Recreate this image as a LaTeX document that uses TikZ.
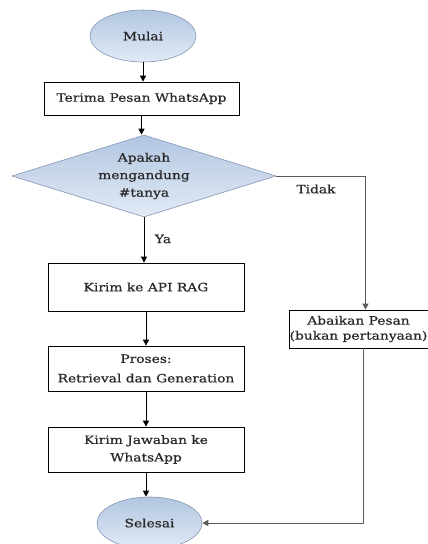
\documentclass[tikz,border=0pt]{standalone}
\usepackage{fontspec}
\setmainfont[FakeStretch=1.2,FakeBold=0.7]{DejaVu Serif}
\usetikzlibrary{shapes.geometric,arrows.meta,calc}
\definecolor{txt}{RGB}{40,40,40}
\definecolor{shtop}{RGB}{178,198,225}
\definecolor{shbot}{RGB}{226,234,245}
\definecolor{shline}{RGB}{130,150,180}
\definecolor{gline}{RGB}{90,90,90}
\begin{document}
\begin{tikzpicture}[x=1pt,y=-1pt,
  every node/.style={font=\fontsize{11.5}{17.5}\selectfont, text=txt},
  term/.style={ellipse, draw=shline, line width=0.6pt, top color=shtop, bottom color=shbot, inner sep=0pt},
  proc/.style={rectangle, draw=black, line width=0.7pt, fill=white, inner sep=0pt, align=center},
  decide/.style={diamond, aspect=3.2, draw=shline, line width=0.6pt, top color=shtop, bottom color=shbot, inner sep=0pt, align=center},
  flow/.style={draw=black, line width=0.7pt, -{Triangle[width=6pt,length=6pt]}},
  gflow/.style={draw=gline, line width=0.7pt, -{Triangle[width=6pt,length=6pt]}}
]
\useasboundingbox (0,0) rectangle (428,544);
\node[term, minimum width=106pt, minimum height=52pt] (mulai) at (143,36) {Mulai};
\node[proc, minimum width=195pt, minimum height=33pt] (terima) at (141.5,98.5) {Terima Pesan WhatsApp};
\node[decide, minimum width=264pt, minimum height=82pt] (tanya) at (144,176) {Apakah\\mengandung\\\#tanya};
\node[proc, minimum width=196pt, minimum height=48pt] (kirim) at (146,287) {Kirim ke API RAG};
\node[proc, minimum width=196pt, minimum height=45pt] (proses) at (146,368.5) {Proses:\\[2pt]Retrieval dan Generation};
\node[proc, minimum width=196pt, minimum height=45pt] (jawab) at (146,449.5) {Kirim Jawaban ke\\WhatsApp};
\node[proc, minimum width=139pt, minimum height=38pt] (abaikan) at (358.5,329) {Abaikan Pesan\\[-2.5pt](bukan pertanyaan)};
\node[term, minimum width=105pt, minimum height=52pt] (selesai) at (149.5,523) {Selesai};
\node (ya) at (163,239) {Ya};
\node (tidak) at (316,189) {Tidak};
\coordinate (abIn) at ($(abaikan.north)+(7,0)$);
\coordinate (abOut) at ($(abaikan.south)+(5,0)$);
\draw[flow] (mulai.south) -- (mulai.south |- terima.north);
\draw[flow] (terima.south) -- (terima.south |- tanya.north);
\draw[flow] (tanya.south) -- (tanya.south |- kirim.north);
\draw[flow] (kirim.south) -- (kirim.south |- proses.north);
\draw[flow] (proses.south) -- (proses.south |- jawab.north);
\draw[flow] (jawab.south) -- (jawab.south |- selesai.north);
\draw[gflow] (tanya.east) -| (abIn);
\draw[gflow] (abOut) |- (selesai.east);
\end{tikzpicture}
\end{document}
